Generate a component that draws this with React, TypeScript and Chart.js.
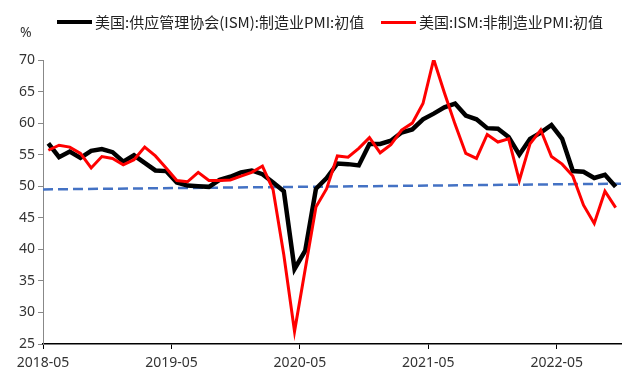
import React, { useEffect, useRef } from "react";
import { Chart, registerables } from "chart.js";

Chart.register(...registerables);

const months = [
  "2018-05", "2018-06", "2018-07", "2018-08", "2018-09", "2018-10", "2018-11", "2018-12",
  "2019-01", "2019-02", "2019-03", "2019-04", "2019-05", "2019-06", "2019-07", "2019-08",
  "2019-09", "2019-10", "2019-11", "2019-12",
  "2020-01", "2020-02", "2020-03", "2020-04", "2020-05", "2020-06", "2020-07", "2020-08",
  "2020-09", "2020-10", "2020-11", "2020-12",
  "2021-01", "2021-02", "2021-03", "2021-04", "2021-05", "2021-06", "2021-07", "2021-08",
  "2021-09", "2021-10", "2021-11", "2021-12",
  "2022-01", "2022-02", "2022-03", "2022-04", "2022-05", "2022-06", "2022-07", "2022-08",
  "2022-09", "2022-10",
];

const tickMonths = ["2018-05", "2019-05", "2020-05", "2021-05", "2022-05"];
const yTicks = [25, 30, 35, 40, 45, 50, 55, 60, 65, 70];

const mfgName = "美国:供应管理协会(ISM):制造业PMI:初值";
const svcName = "美国:ISM:非制造业PMI:初值";

const mfgValues = [
  56.8, 54.6, 55.5, 54.5, 55.6, 55.9, 55.4, 53.9,
  54.9, 53.7, 52.5, 52.4, 50.6, 50.1, 50.0, 49.9, 51.0, 51.5, 52.2, 52.5,
  51.9, 50.6, 49.2, 36.9, 39.8, 49.6, 51.3, 53.6, 53.5, 53.3, 56.7, 56.7,
  57.2, 58.5, 59.0, 60.6, 61.5, 62.5, 63.1, 61.2, 60.6, 59.2, 59.1, 57.8,
  55.0, 57.5, 58.5, 59.7, 57.5, 52.4, 52.3, 51.3, 51.8, 49.9,
];

const svcValues = [
  55.7, 56.5, 56.2, 55.2, 52.9, 54.7, 54.4, 53.4,
  54.2, 56.2, 54.8, 52.9, 50.9, 50.7, 52.2, 50.9, 50.9, 51.0, 51.6, 52.2,
  53.2, 49.4, 39.1, 27.0, 36.9, 46.7, 49.6, 54.8, 54.6, 56.0, 57.7, 55.3,
  56.6, 58.9, 60.0, 63.1, 70.1, 64.8, 59.8, 55.2, 54.4, 58.2, 57.0, 57.5,
  50.9, 56.7, 58.9, 54.7, 53.5, 51.6, 47.0, 44.1, 49.2, 46.6,
];

// dashed reference trend: value at left edge, value at right edge
const trendValues = [49.5, 50.4];

const tickFont = { family: "'Noto Sans', 'Noto Sans CJK SC', sans-serif", size: 14 };

export default function App() {
  const canvasRef = useRef<HTMLCanvasElement | null>(null);

  useEffect(() => {
    document.body.style.margin = "0";
    const canvas = canvasRef.current;
    if (!canvas) return;
    const chart = new Chart(canvas, {
      type: "line",
      data: {
        datasets: [
          {
            label: mfgName,
            data: mfgValues.map((v, i) => ({ x: i + 0.5, y: v })),
            borderColor: "#000000",
            backgroundColor: "#000000",
            borderWidth: 4.5,
            pointRadius: 0,
            tension: 0,
            order: 1,
          },
          {
            label: svcName,
            data: svcValues.map((v, i) => ({ x: i + 0.5, y: v })),
            borderColor: "#ff0000",
            backgroundColor: "#ff0000",
            borderWidth: 3,
            pointRadius: 0,
            tension: 0,
            order: 0,
          },
          {
            label: "trend",
            data: [
              { x: 0, y: trendValues[0] },
              { x: months.length, y: trendValues[1] },
            ],
            borderColor: "#4472C4",
            borderDash: [10, 5],
            borderWidth: 2.5,
            pointRadius: 0,
            tension: 0,
            order: 2,
          },
        ],
      },
      options: {
        animation: false,
        responsive: false,
        devicePixelRatio: 1,
        layout: { padding: { top: 60, right: 19, left: 0, bottom: 0 } },
        plugins: {
          legend: { display: false },
          tooltip: { enabled: false },
        },
        scales: {
          x: {
            type: "linear",
            min: 0,
            max: months.length,
            afterBuildTicks: (s: any) => {
              s.ticks = tickMonths.map((m) => ({ value: months.indexOf(m) }));
            },
            afterFit: (s: any) => {
              s.height = 41;
            },
            ticks: {
              callback: (v: any) => months[Number(v)],
              maxRotation: 0,
              autoSkip: false,
              padding: 6,
              color: "#333333",
              font: tickFont,
            },
            grid: { drawOnChartArea: false, tickLength: 5, color: "#000000" },
            border: { color: "#000000", width: 1.5 },
          },
          y: {
            type: "linear",
            min: 25,
            max: 70,
            afterBuildTicks: (s: any) => {
              s.ticks = yTicks.map((v) => ({ value: v }));
            },
            afterFit: (s: any) => {
              s.width = 43;
            },
            ticks: { padding: 3, color: "#333333", font: tickFont },
            grid: { drawOnChartArea: false, tickLength: 5, color: "#888888" },
            border: { color: "#888888", width: 1 },
          },
        },
      },
    });
    return () => chart.destroy();
  }, []);

  const legendText: React.CSSProperties = {
    position: "absolute",
    top: 12,
    fontFamily: "'Noto Sans CJK SC', sans-serif",
    fontSize: 15,
    lineHeight: "20px",
    color: "#222",
    whiteSpace: "nowrap",
  };
  const legendLine = (color: string, h: number): React.CSSProperties => ({
    position: "absolute",
    top: 22 - h / 2,
    width: 35,
    height: h,
    background: color,
  });

  return (
    <div style={{ position: "relative", width: 640, height: 385, background: "#fff" }}>
      <canvas ref={canvasRef} width={640} height={385} style={{ display: "block" }} />
      <div style={{ ...legendLine("#000", 4), left: 57 }} />
      <div style={{ ...legendText, left: 95 }}>{mfgName}</div>
      <div style={{ ...legendLine("#ff0000", 3), left: 381 }} />
      <div style={{ ...legendText, left: 419 }}>{svcName}</div>
      <div
        style={{
          position: "absolute",
          left: 20,
          top: 23,
          fontFamily: "'Noto Sans', sans-serif",
          fontSize: 14,
          lineHeight: "18px",
          color: "#333",
        }}
      >
        %
      </div>
    </div>
  );
}
